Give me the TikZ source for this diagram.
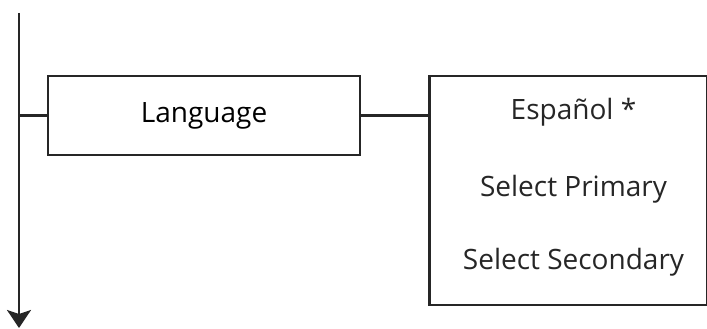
\documentclass[tikz,border=0pt]{standalone}
\usepackage{fontspec}
\setmainfont{Open Sans}
\usepackage{tikz}
\usetikzlibrary{arrows.meta, positioning}
\tikzset{
    menubox/.style={rectangle, draw=black!85, line width=2.5pt, fill=white, inner sep=0pt, font=\fontsize{28}{34}\selectfont},
    wire/.style={draw=black!85, line width=2.5pt},
    flow/.style={wire, -{Stealth[length=18pt, width=24pt, inset=4pt]}},
    itemtext/.style={font=\fontsize{28}{34}\selectfont, text=black!85}
}
\begin{document}
\begin{tikzpicture}[x=1pt, y=-1pt]
    \useasboundingbox (0,0) rectangle (707,329);
    \coordinate (top) at (19,13);
    \coordinate (bottom) at (19,328);
    \draw[flow] (top) -- (bottom);
    \node[menubox, minimum width=312pt, minimum height=79pt] (lang) at (204,115.5) {Language};
    \node[menubox, right=67pt of lang.north east, anchor=north west, minimum width=278pt, minimum height=229pt] (choices) {};
    \node[itemtext] (es) at ([xshift=5pt, yshift=-37pt]choices.north) {Español *};
    \node[itemtext] (primary) at ([xshift=5pt, yshift=-114pt]choices.north) {Select Primary};
    \node[itemtext] (secondary) at ([xshift=5pt, yshift=-187pt]choices.north) {Select Secondary};
    \draw[wire] (lang.west) -- (lang.west -| top);
    \draw[wire] (lang.east) -- (lang.east -| choices.west);
\end{tikzpicture}
\end{document}
